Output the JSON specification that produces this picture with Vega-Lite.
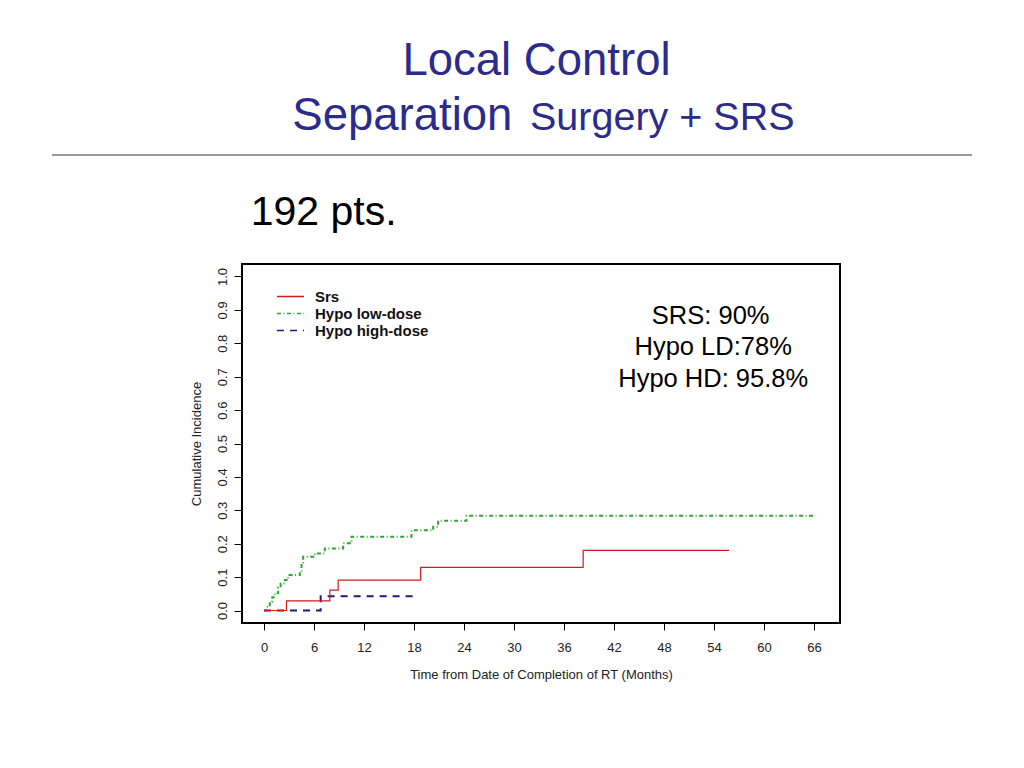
{
  "$schema": "https://vega.github.io/schema/vega-lite/v6.json",
  "width": 598,
  "height": 359,
  "autosize": {"type": "none"},
  "padding": {"left": 242, "top": 264, "right": 184, "bottom": 145},
  "background": "white",
  "datasets": {
    "curves": [
      {"group": "Srs", "months": 0, "incidence": 0},
      {"group": "Srs", "months": 2.7, "incidence": 0.029},
      {"group": "Srs", "months": 7.9, "incidence": 0.061},
      {"group": "Srs", "months": 8.9, "incidence": 0.091},
      {"group": "Srs", "months": 18.8, "incidence": 0.129},
      {"group": "Srs", "months": 38.3, "incidence": 0.18},
      {"group": "Srs", "months": 55.8, "incidence": 0.18},
      {"group": "Hypo low-dose", "months": 0, "incidence": 0},
      {"group": "Hypo low-dose", "months": 0.3, "incidence": 0.011},
      {"group": "Hypo low-dose", "months": 0.7, "incidence": 0.027},
      {"group": "Hypo low-dose", "months": 1.0, "incidence": 0.04},
      {"group": "Hypo low-dose", "months": 1.3, "incidence": 0.052},
      {"group": "Hypo low-dose", "months": 1.7, "incidence": 0.068},
      {"group": "Hypo low-dose", "months": 2.0, "incidence": 0.081},
      {"group": "Hypo low-dose", "months": 2.5, "incidence": 0.091},
      {"group": "Hypo low-dose", "months": 2.9, "incidence": 0.106},
      {"group": "Hypo low-dose", "months": 4.3, "incidence": 0.116},
      {"group": "Hypo low-dose", "months": 4.5, "incidence": 0.141},
      {"group": "Hypo low-dose", "months": 4.7, "incidence": 0.161},
      {"group": "Hypo low-dose", "months": 6.1, "incidence": 0.171},
      {"group": "Hypo low-dose", "months": 7.3, "incidence": 0.186},
      {"group": "Hypo low-dose", "months": 9.5, "incidence": 0.201},
      {"group": "Hypo low-dose", "months": 10.5, "incidence": 0.221},
      {"group": "Hypo low-dose", "months": 17.7, "incidence": 0.24},
      {"group": "Hypo low-dose", "months": 20.3, "incidence": 0.251},
      {"group": "Hypo low-dose", "months": 20.9, "incidence": 0.269},
      {"group": "Hypo low-dose", "months": 24.3, "incidence": 0.284},
      {"group": "Hypo low-dose", "months": 66.1, "incidence": 0.284},
      {"group": "Hypo high-dose", "months": 0, "incidence": 0},
      {"group": "Hypo high-dose", "months": 6.8, "incidence": 0.043},
      {"group": "Hypo high-dose", "months": 18.1, "incidence": 0.043}
    ]
  },
  "layer": [
    {
      "data": {"name": "curves"},
      "transform": [{"filter": "datum.group === 'Hypo high-dose'"}],
      "mark": {"type": "line", "interpolate": "step-after", "strokeWidth": 2, "clip": true},
      "encoding": {
        "x": {
          "field": "months",
          "type": "quantitative",
          "scale": {"domain": [-2.64, 69.12], "nice": false, "zero": false},
          "axis": {
            "values": [0, 6, 12, 18, 24, 30, 36, 42, 48, 54, 60, 66],
            "tickCount": 20,
            "title": "Time from Date of Completion of RT (Months)",
            "labelPadding": 11,
            "titlePadding": 14
          }
        },
        "y": {
          "field": "incidence",
          "type": "quantitative",
          "scale": {"domain": [-0.0374, 1.0374], "nice": false, "zero": false},
          "axis": {
            "values": [0, 0.1, 0.2, 0.3, 0.4, 0.5, 0.6, 0.7, 0.8, 0.9, 1],
            "tickCount": 20,
            "format": ".1f",
            "title": "Cumulative Incidence",
            "labelOverlap": false
          }
        },
        "color": {
          "field": "group",
          "type": "nominal",
          "scale": {
            "domain": ["Srs", "Hypo low-dose", "Hypo high-dose"],
            "range": ["#d11a1a", "#2fa52f", "#1a1a80"]
          },
          "legend": {
            "title": null,
            "orient": "none",
            "legendX": 41,
            "legendY": 25,
            "padding": 0,
            "symbolType": "M-3,0H3",
            "symbolSize": 81,
            "symbolStrokeWidth": 1.5,
            "labelOffset": 17,
            "labelFontSize": 15,
            "labelFontWeight": "bold",
            "labelColor": "#111111",
            "rowPadding": 1
          }
        },
        "strokeDash": {
          "field": "group",
          "type": "nominal",
          "scale": {
            "domain": ["Srs", "Hypo low-dose", "Hypo high-dose"],
            "range": [[1, 0], [4, 2.5, 1, 2.5], [7, 6]]
          },
          "legend": {
            "title": null,
            "orient": "none",
            "legendX": 41,
            "legendY": 25,
            "padding": 0,
            "symbolType": "M-3,0H3",
            "symbolSize": 81,
            "symbolStrokeWidth": 1.5,
            "labelOffset": 17,
            "labelFontSize": 15,
            "labelFontWeight": "bold",
            "labelColor": "#111111",
            "rowPadding": 1
          }
        }
      }
    },
    {
      "data": {"name": "curves"},
      "transform": [{"filter": "datum.group === 'Hypo low-dose'"}],
      "mark": {"type": "line", "interpolate": "step-after", "strokeWidth": 2, "clip": true},
      "encoding": {
        "x": {"field": "months", "type": "quantitative"},
        "y": {"field": "incidence", "type": "quantitative"},
        "color": {"field": "group", "type": "nominal"},
        "strokeDash": {"field": "group", "type": "nominal"}
      }
    },
    {
      "data": {"name": "curves"},
      "transform": [{"filter": "datum.group === 'Srs'"}],
      "mark": {"type": "line", "interpolate": "step-after", "strokeWidth": 1.2, "clip": true},
      "encoding": {
        "x": {"field": "months", "type": "quantitative"},
        "y": {"field": "incidence", "type": "quantitative"},
        "color": {"field": "group", "type": "nominal"},
        "strokeDash": {"field": "group", "type": "nominal"}
      }
    },
    {
      "data": {"values": [{}]},
      "mark": {"type": "rule", "color": "#9a9a9a", "strokeWidth": 2},
      "encoding": {
        "x": {"datum": -25.44, "type": "quantitative"},
        "x2": {"datum": 84.96},
        "y": {"datum": 1.3638, "type": "quantitative"}
      }
    },
    {
      "data": {"values": [{}]},
      "mark": {"type": "text", "text": "Local Control", "align": "center", "baseline": "alphabetic", "fontSize": 45.5, "color": "#2b2b8c"},
      "encoding": {
        "x": {"datum": 32.7, "type": "quantitative"},
        "y": {"datum": 1.603, "type": "quantitative"}
      }
    },
    {
      "data": {"values": [{}]},
      "mark": {"type": "text", "text": "Separation", "align": "left", "baseline": "alphabetic", "fontSize": 45.5, "color": "#2b2b8c"},
      "encoding": {
        "x": {"datum": 3.4, "type": "quantitative"},
        "y": {"datum": 1.4386, "type": "quantitative"}
      }
    },
    {
      "data": {"values": [{}]},
      "mark": {"type": "text", "text": "Surgery + SRS", "align": "left", "baseline": "alphabetic", "fontSize": 39.5, "color": "#2b2b8c"},
      "encoding": {
        "x": {"datum": 31.92, "type": "quantitative"},
        "y": {"datum": 1.4386, "type": "quantitative"}
      }
    },
    {
      "data": {"values": [{}]},
      "mark": {"type": "text", "text": "192 pts.", "align": "left", "baseline": "alphabetic", "fontSize": 41, "color": "#000000"},
      "encoding": {
        "x": {"datum": -1.6, "type": "quantitative"},
        "y": {"datum": 1.154, "type": "quantitative"}
      }
    },
    {
      "data": {"values": [{}]},
      "mark": {"type": "text", "text": "SRS: 90%", "align": "center", "baseline": "alphabetic", "fontSize": 25.5, "color": "#000000"},
      "encoding": {
        "x": {"datum": 53.6, "type": "quantitative"},
        "y": {"datum": 0.8587, "type": "quantitative"}
      }
    },
    {
      "data": {"values": [{}]},
      "mark": {"type": "text", "text": "Hypo LD:78%", "align": "center", "baseline": "alphabetic", "fontSize": 25.5, "color": "#000000"},
      "encoding": {
        "x": {"datum": 53.9, "type": "quantitative"},
        "y": {"datum": 0.765, "type": "quantitative"}
      }
    },
    {
      "data": {"values": [{}]},
      "mark": {"type": "text", "text": "Hypo HD: 95.8%", "align": "center", "baseline": "alphabetic", "fontSize": 25.5, "color": "#000000"},
      "encoding": {
        "x": {"datum": 53.9, "type": "quantitative"},
        "y": {"datum": 0.6691, "type": "quantitative"}
      }
    }
  ],
  "config": {
    "font": "Liberation Sans",
    "view": {"stroke": "#000000", "strokeWidth": 2},
    "axis": {
      "grid": false,
      "domain": false,
      "tickColor": "#000000",
      "labelFontSize": 13,
      "labelColor": "#222222",
      "labelOverlap": false,
      "titleFontSize": 13,
      "titleFontWeight": "normal",
      "titleColor": "#222222"
    },
    "axisX": {
      "tickSize": 7
    },
    "axisY": {
      "tickSize": 8,
      "labelAngle": 270,
      "labelAlign": "center",
      "labelBaseline": "bottom",
      "labelPadding": 5,
      "labelOverlap": false,
      "titlePadding": 13
    }
  }
}
